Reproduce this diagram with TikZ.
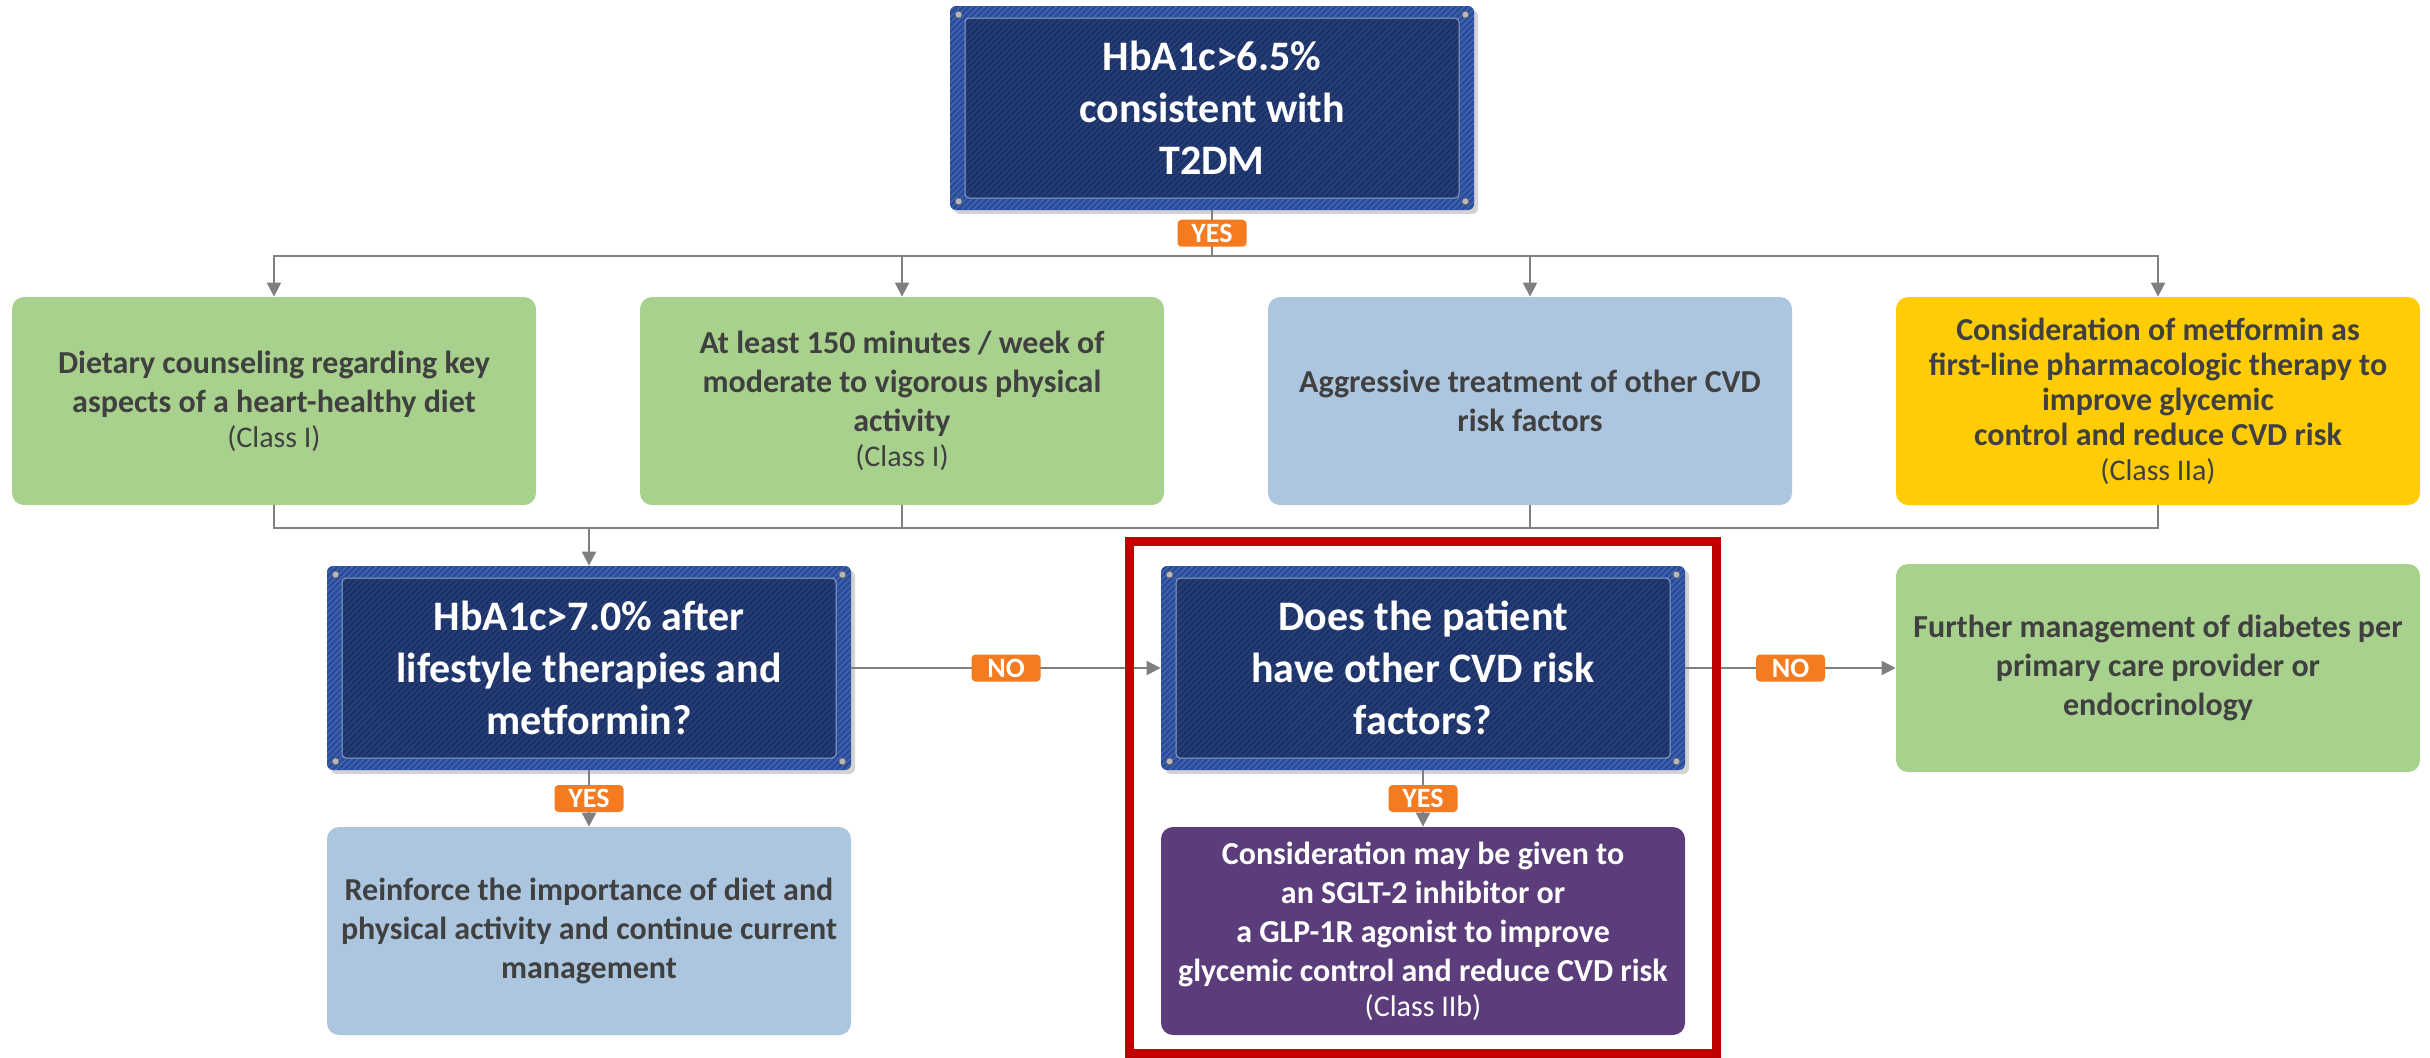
\documentclass[tikz,border=0pt]{standalone}
\usepackage{fontspec}
\setmainfont{Carlito}
\usepackage{tikz}
\usetikzlibrary{arrows.meta,shadows,patterns}

\definecolor{bandblue}{HTML}{2B4C98}
\definecolor{bandstripe}{HTML}{4A6FBC}
\definecolor{coreblue}{HTML}{1D3266}
\definecolor{corestripe}{HTML}{2D4886}
\definecolor{rimblue}{HTML}{8EA2C8}
\definecolor{leafgreen}{HTML}{A9D18E}
\definecolor{skyblue}{HTML}{ADC6E0}
\definecolor{amber}{HTML}{FFCC05}
\definecolor{plum}{HTML}{5C3D7B}
\definecolor{tagorange}{HTML}{F47B20}
\definecolor{alertred}{HTML}{C00000}
\definecolor{textgrey}{HTML}{404040}
\definecolor{linegrey}{HTML}{7F7F7F}

\newcommand{\recclass}[1]{{\mdseries\fontsize{15}{17}\selectfont(#1)}}

\tikzstyle{junction} = [coordinate]
\tikzstyle{decision} = [rectangle, rounded corners=3pt, minimum width=262pt, minimum height=102pt,
  align=center, fill=bandblue, text=white, font=\bfseries\fontsize{21}{26}\selectfont,
  drop shadow={shadow xshift=2pt, shadow yshift=-2pt, opacity=0.35},
  path picture={
    \fill [pattern=north east lines, pattern color=bandstripe] (path picture bounding box.south west) rectangle (path picture bounding box.north east);
    \fill [coreblue, rounded corners=2pt] ([shift={(7.5pt,6pt)}]path picture bounding box.south west) rectangle ([shift={(-7.5pt,-6pt)}]path picture bounding box.north east);
    \fill [pattern=north east lines, pattern color=corestripe] ([shift={(7.5pt,6pt)}]path picture bounding box.south west) rectangle ([shift={(-7.5pt,-6pt)}]path picture bounding box.north east);
    \draw [rimblue, line width=0.5pt, rounded corners=2pt] ([shift={(7.5pt,6pt)}]path picture bounding box.south west) rectangle ([shift={(-7.5pt,-6pt)}]path picture bounding box.north east);
    \filldraw [fill=gray!55, draw=black!60, line width=0.3pt] ([shift={(4.3pt,-4.3pt)}]path picture bounding box.north west) circle (1.7pt);
    \filldraw [fill=gray!55, draw=black!60, line width=0.3pt] ([shift={(-4.3pt,-4.3pt)}]path picture bounding box.north east) circle (1.7pt);
    \filldraw [fill=gray!55, draw=black!60, line width=0.3pt] ([shift={(4.3pt,4.3pt)}]path picture bounding box.south west) circle (1.7pt);
    \filldraw [fill=gray!55, draw=black!60, line width=0.3pt] ([shift={(-4.3pt,4.3pt)}]path picture bounding box.south east) circle (1.7pt);
  }]
\tikzstyle{action} = [rectangle, rounded corners=6pt, minimum width=262pt, minimum height=104pt,
  align=center, text=textgrey, font=\bfseries\fontsize{16}{19.5}\selectfont]
\tikzstyle{tag} = [rectangle, rounded corners=2pt, fill=tagorange, text=white, anchor=center,
  font=\bfseries\fontsize{14}{14}\selectfont, minimum width=34.5pt, minimum height=13.5pt, inner sep=1pt]
\tikzstyle{wire} = [draw=linegrey, line width=1pt]
\tikzstyle{redframe} = [draw=alertred, line width=4.5pt]

\begin{document}
\begin{tikzpicture}[x=0.5pt, y=-0.5pt, node distance=314pt, >={Triangle[length=7pt, width=7pt]}]
    \useasboundingbox (0,0) rectangle (2430,1057);

    \node [decision] (start) at (1212,108) {HbA1c>6.5\%\\consistent with\\T2DM};
    \node [junction, below of=start, node distance=74pt] (fork) {};

    \node [action, fill=leafgreen] (diet) at (274,401) {Dietary counseling regarding key\\aspects of a heart-healthy diet\\[-2pt]\recclass{Class I}};
    \node [action, fill=leafgreen, right of=diet] (exercise) {At least 150 minutes / week of\\moderate to vigorous physical\\activity\\[-2pt]\recclass{Class I}};
    \node [action, fill=skyblue, right of=exercise] (riskfx) {Aggressive treatment of other CVD\\risk factors};
    \node [action, fill=amber, right of=riskfx, font=\bfseries\fontsize{16}{17.5}\selectfont] (metformin) {Consideration of metformin as\\first-line pharmacologic therapy to\\improve glycemic\\control and reduce CVD risk\\\recclass{Class IIa}};

    \node [decision] (target) at (589,668) {HbA1c>7.0\% after\\lifestyle therapies and\\metformin?};
    \node [junction, above of=target, node distance=70pt] (merge) {};
    \node [decision, right of=target, node distance=417pt] (cvdq) {Does the patient\\have other CVD risk\\factors?};
    \node [action, fill=leafgreen, below of=metformin, node distance=133.5pt] (further) {Further management of diabetes per\\primary care provider or\\endocrinology};

    \node [action, fill=skyblue, below of=target, node distance=131.5pt] (reinforce) {Reinforce the importance of diet and\\physical activity and continue current\\management};
    \node [action, fill=plum, text=white, below of=cvdq, node distance=131.5pt] (sglt) {Consideration may be given to\\an SGLT-2 inhibitor or\\a GLP-1R agonist to improve\\glycemic control and reduce CVD risk\\[-2pt]\recclass{Class IIb}};

    \draw [wire] (start) -- node [tag] {YES} (fork);
    \draw [wire, ->] (fork) -| (diet);
    \draw [wire, ->] (fork) -| (exercise);
    \draw [wire, ->] (fork) -| (riskfx);
    \draw [wire, ->] (fork) -| (metformin);

    \draw [wire] (diet) |- (merge);
    \draw [wire] (exercise) |- (merge);
    \draw [wire] (riskfx) |- (merge);
    \draw [wire] (metformin) |- (merge);
    \draw [wire, ->] (merge) -- (target);

    \draw [wire, ->] (target) -- node [tag] {NO} (cvdq);
    \draw [wire, ->] (cvdq) -- node [tag] {NO} (further);
    \draw [wire, ->] (target) -- node [tag] {YES} (reinforce);
    \draw [wire, ->] (cvdq) -- node [tag] {YES} (sglt);

    \draw [redframe] ([shift={(-31,-24)}]cvdq.north west) rectangle ([shift={(31,18)}]sglt.south east);
\end{tikzpicture}
\end{document}
